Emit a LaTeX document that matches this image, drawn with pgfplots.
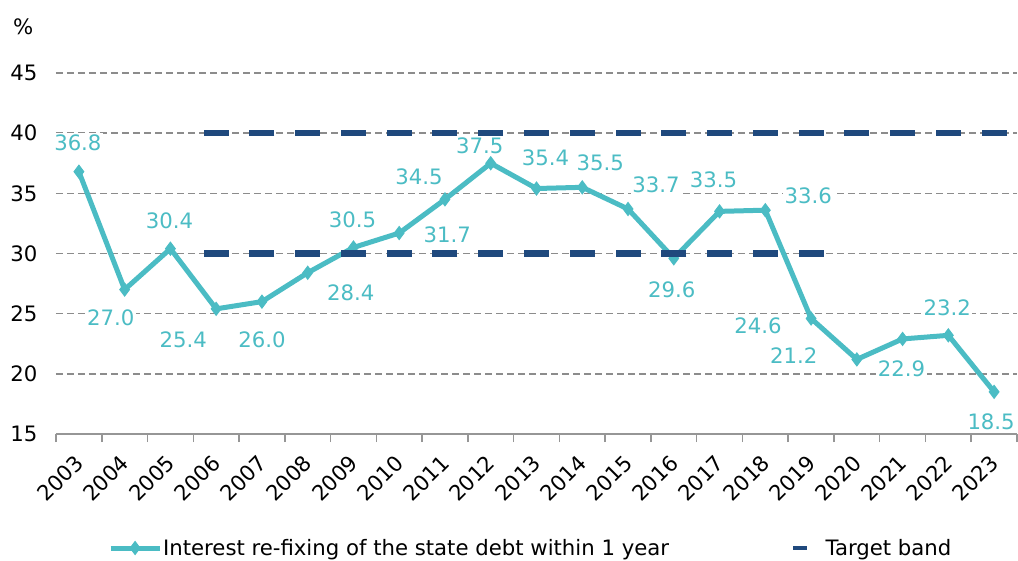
\documentclass[border=0pt]{standalone}
\usepackage{fontspec}
\setmainfont{DejaVu Sans}
\usepackage{pgfplots}
\usepackage{pgfplotstable}
\pgfplotsset{compat=1.18}
\definecolor{teal1}{RGB}{75,188,196}
\definecolor{bandc}{RGB}{31,73,125}
\definecolor{gridc}{RGB}{140,140,140}
\definecolor{axisc}{RGB}{150,150,150}
\newcommand{\fs}{\fontsize{21.3}{25}\selectfont}
\pgfplotsset{
  tealleg/.style={legend image code/.code={\draw[mark repeat=2, mark phase=2, ##1] plot coordinates {(0bp,0bp) (24.5bp,0bp) (49bp,0bp)};}},
  bandleg/.style={legend image code/.code={\draw[bandc, line width=4.5bp] (0bp,0bp) -- (14bp,0bp); \path (31bp,0bp);}},
}

\pgfplotstableread{
x y dx dy
0 36.8 -1 29
1 27.0 -14 -28
2 30.4 -1 28
3 25.4 -33 -31
4 26.0 0 -38
5 28.4 43 -20
6 30.5 -1 28
7 31.7 48 -2
8 34.5 -26 23
9 37.5 -11 17
10 35.4 9 31
11 35.5 18 25
12 33.7 28 24
13 29.6 -2 -31
14 33.5 -6 32
15 33.6 43 14
16 24.6 -53 -7
17 21.2 -63 4
18 22.9 -1 -30
19 23.2 -1 28
20 18.5 -3 -30
}\datatable

\pgfplotstableread{
x y
3 40
4 40
5 40
6 40
7 40
8 40
9 40
10 40
11 40
12 40
13 40
14 40
15 40
16 40
17 40
18 40
19 40
20 40
}\bandhigh

\pgfplotstableread{
x y
3 30
4 30
5 30
6 30
7 30
8 30
9 30
10 30
11 30
12 30
13 30
14 30
15 30
16 30
}\bandlow

\begin{document}
\begin{tikzpicture}
\begin{axis}[
  scale only axis, width=961bp, height=361bp,
  xmin=-0.5, xmax=20.5, ymin=15, ymax=45,
  clip=false,
  axis x line*=bottom, axis y line*=left,
  y axis line style={draw=none},
  x axis line style={draw=axisc, line width=1.5bp},
  xtick={0,...,20},
  xticklabels={2003,2004,2005,2006,2007,2008,2009,2010,2011,2012,2013,2014,2015,2016,2017,2018,2019,2020,2021,2022,2023},
  major tick length=0pt,
  minor xtick={-0.5,0.5,...,20.5},
  minor tick length=8bp, tick align=outside,
  minor x tick style={draw=axisc, line width=1.5bp},
  ytick={15,20,...,45},
  ymajorgrids,
  y grid style={gridc, line width=1.4bp, dash pattern=on 7bp off 4bp},
  /pgf/number format/assume math mode=true,
  tick label style={font=\fs, text=black},
  yticklabel style={xshift=-15bp},
  xticklabel style={rotate=45, anchor=east, xshift=-14bp, yshift=-18bp},
  legend style={at={(axis description cs:0.054,-0.3158)}, anchor=west,
    draw=none, fill=none, legend columns=2, inner sep=0pt,
    font=\fs,
    nodes={inner xsep=1bp},
    /tikz/every even column/.append style={column sep=121bp}},
]
\coordinate (O) at (rel axis cs:0,0);
\addplot[teal1, line width=5bp, mark=diamond*, mark size=6.5bp,
  mark options={solid, line width=1bp, fill=teal1}, tealleg]
  table[x=x, y=y] {\datatable};
\addlegendentry{Interest re-fixing of the state debt within 1 year}
\addplot[only marks, mark=-, mark size=12.5bp, bandc,
  mark options={solid, line width=6.5bp, bandc}, bandleg]
  table[x=x, y=y] {\bandhigh};
\addlegendentry{Target band}
\addplot[only marks, mark=-, mark size=12.5bp, bandc, forget plot,
  mark options={solid, line width=6.5bp, bandc}]
  table[x=x, y=y] {\bandlow};
\addplot[draw=none, mark=none, forget plot,
  point meta=explicit,
  visualization depends on={\thisrow{dx} \as \dx},
  visualization depends on={\thisrow{dy} \as \dy},
  nodes near coords={\pgfmathprintnumber[fixed,fixed zerofill,precision=1,assume math mode=true]{\pgfplotspointmeta}},
  nodes near coords style={anchor=center, xshift=\dx*1bp, yshift=\dy*1bp,
    fill=white, inner sep=1.5bp, text=teal1, font=\fs}]
  table[x=x, y=y, meta=y] {\datatable};
\node[font=\fs] at (axis description cs:-0.034,1.127) {\%};
\end{axis}
\pgfresetboundingbox
\path ([shift={(-56bp,-127bp)}]O) rectangle ([shift={(962bp,434bp)}]O);
\end{tikzpicture}
\end{document}
